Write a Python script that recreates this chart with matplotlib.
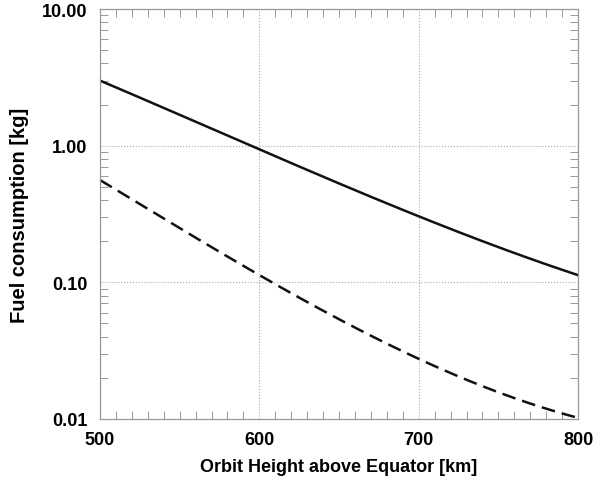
import numpy as np
import matplotlib.pyplot as plt
from matplotlib.ticker import FixedLocator, LogLocator, MultipleLocator, NullFormatter

# values
height = [500, 550, 600, 650, 700, 750, 800]
fuel_solid = [3.0, 1.68, 0.94, 0.53, 0.305, 0.18, 0.113]
fuel_dashed = [0.56, 0.25, 0.113, 0.053, 0.028, 0.0155, 0.0102]
yticks = [0.01, 0.1, 1.0, 10.0]
ytick_labels = ['0.01', '0.10', '1.00', '10.00']
xticks = [500, 600, 700, 800]

plt.rcParams['font.family'] = 'Liberation Sans'

fig = plt.figure(figsize=(6.06, 4.81), dpi=100)
ax = fig.add_axes([0.165, 0.127, 0.789, 0.852])

# smooth the curves in log space (cubic through read points)
xs = np.linspace(500, 800, 200)
for vals, ls in [(fuel_solid, '-'), (fuel_dashed, (0, (5.5, 2.8)))]:
    c = np.polyfit(height, np.log10(vals), 3)
    ax.plot(xs, 10**np.polyval(c, xs), color='#111111', lw=1.8, linestyle=ls)

ax.set_yscale('log')
ax.set_xlim(500, 800)
ax.set_ylim(0.01, 10)

ax.yaxis.set_major_locator(FixedLocator(yticks))
ax.set_yticklabels(ytick_labels)
ax.yaxis.set_minor_locator(LogLocator(base=10, subs=np.arange(2, 10)))
ax.yaxis.set_minor_formatter(NullFormatter())
ax.set_xticks(xticks)
ax.xaxis.set_minor_locator(MultipleLocator(10))

ax.tick_params(which='both', direction='in', top=True, right=True, color='#999999')
ax.tick_params(which='major', length=0, labelsize=13, pad=9)
ax.tick_params(which='minor', length=6, width=0.7)
for lab in ax.get_xticklabels() + ax.get_yticklabels():
    lab.set_fontweight('bold')

ax.grid(True, which='major', linestyle=':', color='#aaaaaa', lw=0.8)
for sp in ax.spines.values():
    sp.set_color('#999999')
    sp.set_linewidth(0.9)

ax.set_xlabel('Orbit Height above Equator [km]', fontsize=13, fontweight='bold', labelpad=7)
ax.set_ylabel('Fuel consumption [kg]', fontsize=14.5, fontweight='bold', labelpad=9)

plt.savefig('out.png', dpi=100)
